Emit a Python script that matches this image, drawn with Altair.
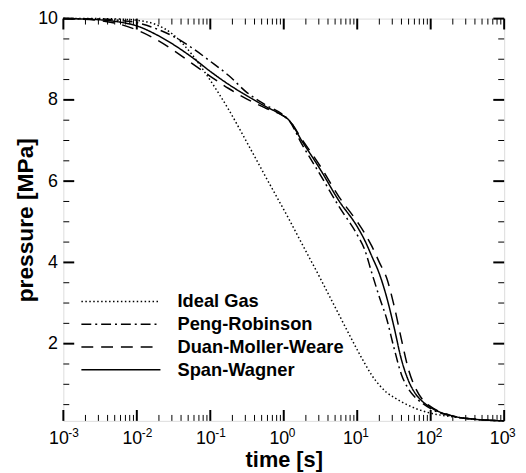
import altair as alt
import pandas as pd

# ---- data ----
time_s = [0.001, 0.00316, 0.00562, 0.01, 0.0178, 0.0316, 0.0562, 0.1, 0.178, 0.316,
          0.562, 1.0, 1.15, 1.78, 3.16, 5.62, 10.0, 12.6, 15.8, 20.0,
          25.1, 31.6, 39.8, 50.1, 63.1, 79.4, 100.0, 200.0, 398.0, 1000.0]

ideal_gas = [10.0, 10.0, 9.99, 9.96, 9.86, 9.6, 9.12, 8.48, 7.76, 6.95,
             6.12, 5.3, 5.1, 4.45, 3.6, 2.72, 1.85, 1.52, 1.22, 0.98,
             0.8, 0.68, 0.57, 0.48, 0.4, 0.34, 0.29, 0.2, 0.14, 0.1]

peng_robinson = [10.0, 9.99, 9.96, 9.9, 9.76, 9.56, 9.28, 8.95, 8.6, 8.18,
                 7.88, 7.62, 7.52, 6.9, 6.15, 5.38, 4.68, 4.32, 3.74, 3.15,
                 2.62, 1.9, 1.25, 0.88, 0.66, 0.52, 0.4, 0.21, 0.14, 0.1]

duan_moller_weare = [10.0, 9.95, 9.87, 9.72, 9.5, 9.22, 8.9, 8.58, 8.28, 8.02,
                     7.8, 7.6, 7.52, 7.02, 6.36, 5.62, 5.0, 4.72, 4.4, 4.0,
                     3.62, 2.95, 2.12, 1.35, 0.88, 0.6, 0.45, 0.22, 0.14, 0.1]

span_wagner = [10.0, 9.97, 9.92, 9.82, 9.62, 9.36, 9.05, 8.7, 8.38, 8.1,
               7.84, 7.6, 7.52, 6.98, 6.28, 5.52, 4.88, 4.55, 4.15, 3.72,
               3.15, 2.42, 1.62, 1.08, 0.75, 0.56, 0.43, 0.22, 0.14, 0.1]

models = ["Ideal Gas", "Peng-Robinson", "Duan-Moller-Weare", "Span-Wagner"]
dash_patterns = [[1.5, 2.5], [10, 4, 2, 4], [12, 8], [1, 0]]

x_major = [0.001, 0.01, 0.1, 1, 10, 100, 1000]
x_label_base = "10"
x_exponents = ["-3", "-2", "-1", "0", "1", "2", "3"]
x_minor = [m * d for d in [0.001, 0.01, 0.1, 1, 10, 100] for m in range(2, 10)]
y_major = [2, 4, 6, 8, 10]
y_minor = [0.5, 1, 1.5, 2.5, 3, 3.5, 4.5, 5, 5.5, 6.5, 7, 7.5, 8.5, 9, 9.5]

# ---- build table ----
rows = []
for name, vals in zip(models, [ideal_gas, peng_robinson, duan_moller_weare, span_wagner]):
    for t, p in zip(time_s, vals):
        rows.append({"time": t, "pressure": p, "model": name})
df = pd.DataFrame(rows)

W, H = 446, 407
FONT = "Liberation Sans"

x_scale = alt.Scale(type="log", domain=[0.001, 1000], nice=False)
y_scale = alt.Scale(domain=[0.1, 10], nice=False, zero=False)

x_axis = alt.Axis(values=x_major, labelExpr=f"'{x_label_base}'", labelOffset=-5,
                  ticks=False, domain=False, grid=False,
                  title="time [s]", labelPadding=9, labelFontSize=18,
                  labelFont=FONT, labelColor="black", labelFlush=False,
                  titleFont=FONT, titleFontSize=22, titleFontWeight="bold",
                  titleColor="black", titleBaseline="alphabetic", titleY=46)
y_axis = alt.Axis(values=y_major, ticks=False, domain=False, grid=False,
                  title="pressure [MPa]", labelPadding=6, labelFontSize=18,
                  labelFont=FONT, labelColor="black", labelFlush=False,
                  titleFont=FONT, titleFontSize=23, titleFontWeight="bold",
                  titleColor="black", titleBaseline="alphabetic",
                  titleX=-31, titleY=H / 2, titleAngle=270)

lines = alt.Chart(df).mark_line(color="black", strokeWidth=1.5, interpolate="monotone").encode(
    x=alt.X("time:Q", scale=x_scale, axis=x_axis),
    y=alt.Y("pressure:Q", scale=y_scale, axis=y_axis),
    strokeDash=alt.StrokeDash("model:N",
                              scale=alt.Scale(domain=models, range=dash_patterns),
                              legend=alt.Legend(orient="none", legendX=49, legendY=277,
                                                title=None, symbolType="M-8,0H8",
                                                symbolSize=100, symbolStrokeWidth=1.5,
                                                symbolStrokeColor="black",
                                                labelFont=FONT, labelFontSize=18.5,
                                                labelFontWeight="bold", labelColor="black",
                                                labelLimit=400,
                                                labelOffset=48, rowPadding=4, padding=0)),
)

exp_df = pd.DataFrame({"time": x_major, "exp": x_exponents})
exponents = alt.Chart(exp_df).mark_text(
    align="left", baseline="top", font=FONT, fontSize=12, color="black", dx=5
).encode(
    x=alt.X("time:Q", scale=x_scale, axis=x_axis),
    y=alt.value(H + 7),
    text="exp:N",
)


def tick_layers(vals, length, width, axis):
    d = pd.DataFrame({"time": vals, "pressure": vals})
    base = alt.Chart(d).mark_rule(color="black", strokeWidth=width)
    if axis == "x":
        enc = dict(x=alt.X("time:Q", scale=x_scale, axis=x_axis))
        return [base.encode(**enc, y=alt.value(H), y2=alt.value(H - length)),
                base.encode(**enc, y=alt.value(0), y2=alt.value(length))]
    enc = dict(y=alt.Y("pressure:Q", scale=y_scale, axis=y_axis))
    return [base.encode(**enc, x=alt.value(0), x2=alt.value(length)),
            base.encode(**enc, x=alt.value(W), x2=alt.value(W - length))]


layers = [lines, exponents]
layers += tick_layers(x_major, 11, 2, "x")
layers += tick_layers(x_minor, 6, 1, "x")
layers += tick_layers(y_major, 11, 2, "y")
layers += tick_layers(y_minor, 6, 1, "y")

chart = alt.layer(*layers).properties(
    width=W, height=H,
    padding={"left": 56, "top": 8, "right": 14, "bottom": 50},
    autosize=alt.AutoSizeParams(type="none"),
).configure_view(stroke="black", strokeWidth=2).configure(background="white")

chart.save("out.html", embed_options={"renderer": "svg", "actions": False})
